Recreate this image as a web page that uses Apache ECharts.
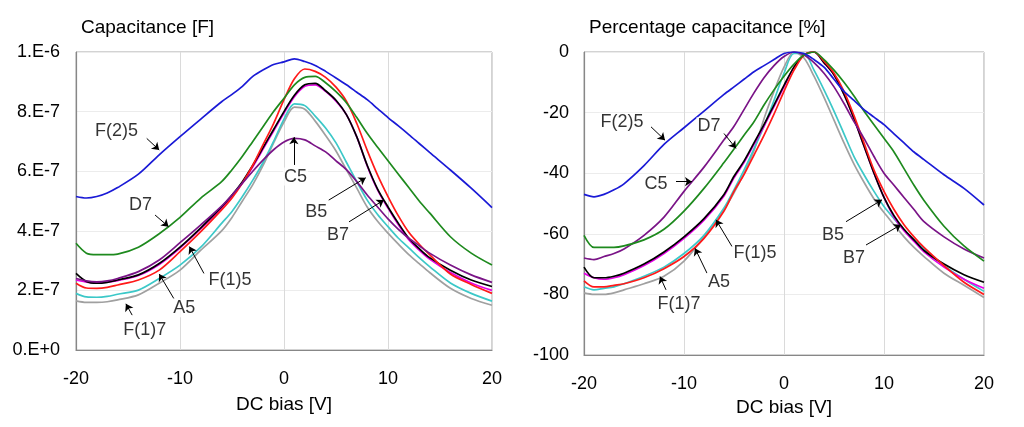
<!DOCTYPE html>
<html>
<head>
<meta charset="utf-8">
<script src="https://cdn.jsdelivr.net/npm/echarts@6/dist/echarts.min.js"></script>
<style>
  html, body { margin: 0; padding: 0; background: #fff; }
  #chart { width: 1024px; height: 427px; }
</style>
</head>
<body>
<div id="chart"></div>
<script>
// DC bias [V]
var biasV = [-20,-19,-18,-17,-16,-14,-12,-10,-8,-6,-5,-4,-3,-2,-1,0,1,2,3,4,5,6,7,8,9,10,11,12,13,14,16,18,20];

// capacitance, read in uF (scaled to F below)
var capF25 = [0.515,0.51,0.515,0.527,0.545,0.59,0.655,0.716,0.775,0.833,0.858,0.885,0.918,0.94,0.958,0.967,0.977,0.968,0.955,0.935,0.913,0.89,0.865,0.84,0.81,0.78,0.752,0.723,0.693,0.663,0.604,0.543,0.478];
var capD7  = [0.358,0.325,0.32,0.32,0.322,0.345,0.39,0.445,0.51,0.565,0.605,0.65,0.7,0.75,0.8,0.845,0.89,0.915,0.918,0.897,0.867,0.83,0.78,0.727,0.68,0.635,0.59,0.545,0.5,0.46,0.38,0.325,0.285];
var capC5  = [0.24,0.232,0.229,0.232,0.24,0.263,0.302,0.36,0.42,0.483,0.52,0.56,0.6,0.638,0.672,0.698,0.71,0.705,0.685,0.665,0.635,0.605,0.565,0.52,0.48,0.44,0.405,0.375,0.35,0.325,0.285,0.252,0.227];
var capB5  = [0.235,0.228,0.226,0.228,0.233,0.25,0.287,0.342,0.407,0.475,0.515,0.56,0.615,0.675,0.735,0.795,0.85,0.885,0.89,0.868,0.835,0.79,0.715,0.618,0.537,0.476,0.42,0.37,0.335,0.305,0.26,0.225,0.2];
var capB7  = [0.257,0.23,0.224,0.227,0.235,0.252,0.29,0.345,0.41,0.48,0.52,0.565,0.62,0.68,0.74,0.8,0.855,0.89,0.895,0.87,0.838,0.79,0.715,0.62,0.54,0.48,0.425,0.375,0.34,0.31,0.268,0.235,0.213];
var capF15 = [0.224,0.208,0.207,0.21,0.218,0.235,0.268,0.33,0.397,0.47,0.51,0.56,0.62,0.69,0.76,0.84,0.91,0.943,0.935,0.915,0.882,0.835,0.76,0.67,0.587,0.515,0.45,0.395,0.355,0.32,0.255,0.22,0.19];
var capA5  = [0.19,0.178,0.177,0.18,0.187,0.201,0.24,0.285,0.345,0.425,0.465,0.515,0.57,0.63,0.7,0.775,0.826,0.82,0.785,0.745,0.695,0.63,0.565,0.503,0.455,0.414,0.375,0.343,0.31,0.28,0.225,0.19,0.164];
var capF17 = [0.165,0.16,0.16,0.162,0.168,0.185,0.224,0.268,0.335,0.4,0.445,0.5,0.555,0.62,0.695,0.765,0.815,0.808,0.768,0.72,0.668,0.605,0.543,0.48,0.432,0.392,0.355,0.32,0.29,0.26,0.207,0.173,0.15];

// percentage capacitance [%]
var pctF25 = [-47,-47.8,-47,-45.5,-43.5,-37.5,-30.5,-25,-19.5,-14,-11.5,-9,-6.5,-4.5,-2.5,-0.5,0,-0.5,-2.5,-5,-9,-13,-16,-19,-21.5,-24,-27,-30,-33,-35.5,-40.5,-45,-50.5];
var pctD7  = [-60.5,-64.5,-64.5,-64.5,-64,-62,-58.5,-52.5,-45,-36.5,-32,-27.5,-23,-17.5,-12.5,-8,-4,-1,0,-2.5,-6,-10,-14.5,-19.5,-24,-28.5,-33,-38.5,-44,-49,-57.5,-64,-69];
var pctC5  = [-68,-68.5,-67.5,-66.5,-65,-60.5,-54.5,-46,-38,-29,-24.5,-19,-13.5,-8.5,-4.5,-1.5,0,-1,-3.5,-7,-11.5,-17,-23,-28.5,-34.5,-40,-44,-48,-52,-56,-61,-65,-68];
var pctB5  = [-73,-74.5,-75,-74.5,-73.5,-70.5,-66.5,-61.5,-55.5,-47.5,-41.5,-36.5,-30.5,-24.5,-18,-11.5,-5,-1,0,-3.5,-7.5,-14,-22,-31,-40,-48,-54.5,-59,-62.5,-66,-71,-75,-78];
var pctB7  = [-71,-74.5,-74.5,-74,-73,-70,-66,-61,-55,-47,-41,-36,-30,-24,-17.5,-11,-5,-1,0,-3.5,-7.5,-14,-22,-31,-40,-48,-54,-58.5,-62,-65.5,-70,-73.5,-76];
var pctF15 = [-75.5,-77.5,-77.5,-77,-76.5,-74.5,-71.5,-67.5,-61.5,-52.5,-46,-40.5,-34,-27.5,-20.5,-13,-6,-1,0,-3,-7,-13,-21,-30,-39,-46,-52,-57,-61,-64.5,-70.5,-76,-80];
var pctA5  = [-77.5,-78.5,-78,-77.5,-76.5,-74,-71,-66.5,-60.5,-51.5,-45.5,-39,-32,-24.5,-16,-7,-0.5,-0.5,-6,-12.5,-19.5,-27,-34.5,-40.5,-46,-51,-55,-58.7,-62,-65,-70.5,-75,-79];
var pctF17 = [-79.5,-80,-80,-79.5,-78.5,-76.5,-74,-69,-61,-52,-46.5,-40,-32.5,-22,-13,-5,0,-2,-8,-15,-22.5,-30,-37,-43,-48.5,-53,-57,-61,-64.5,-67.5,-73,-77,-81];

var sampleNames = ["F(1)7", "A5", "B5", "B7", "F(1)5", "C5", "D7", "F(2)5"];
var sampleColors = ["#a0a0a0", "#3cc8c8", "#e600e6", "#000000", "#ff1a1a", "#7a1487", "#1e8a1e", "#1a1ad6"];
var capSets = [capF17, capA5, capB5, capB7, capF15, capC5, capD7, capF25];
var pctSets = [pctF17, pctA5, pctB5, pctB7, pctF15, pctC5, pctD7, pctF25];

// annotation text [label, x, y] and arrows [x1, y1, x2, y2] (left in uF)
var leftNotes = [["F(2)5",-16.1,0.736],["D7",-13.8,0.487],["C5",1.1,0.582],["B5",3.1,0.464],["B7",5.2,0.386],["F(1)5",-5.2,0.235],["A5",-9.6,0.14],["F(1)7",-13.4,0.067]];
var leftArrows = [[-13.2,0.71,-12.0,0.671],[-12.4,0.453,-11.1,0.414],[0.95,0.621,0.95,0.714],[4.3,0.503,7.86,0.578],[6.25,0.43,9.6,0.503],[-7.7,0.257,-9.1,0.347],[-10.6,0.173,-12.0,0.255],[-14.6,0.117,-15.2,0.155]];
var rightNotes = [["F(2)5",-16.2,-23],["D7",-7.5,-24.5],["C5",-12.8,-43.6],["F(1)5",-2.9,-66.4],["A5",-6.5,-75.8],["F(1)7",-10.5,-83.1],["B5",4.9,-60.5],["B7",7.0,-68]];
var rightArrows = [[-13.3,-24.7,-11.9,-29.1],[-6.0,-26.9,-4.8,-31.8],[-10.8,-42.8,-9.2,-42.8],[-5.2,-64.2,-6.8,-55.4],[-7.7,-73,-8.9,-64.8],[-11.8,-78.5,-12.4,-74.1],[6.2,-56,9.8,-48.8],[8.2,-63.7,11.7,-57]];

var FONT = "'Liberation Sans', Arial, sans-serif";
var UF = 1e-6;

function toPairs(ys, scale) {
  return biasV.map(function (x, i) { return [x, ys[i] * scale]; });
}

function expLabel(v) {
  return (v).toExponential(0).toUpperCase().replace("E", ".E");
}

function noteSeries(notes, arrows, idx, scale) {
  return {
    type: "scatter",
    xAxisIndex: idx,
    yAxisIndex: idx,
    symbolSize: 1,
    itemStyle: { color: "rgba(0,0,0,0)" },
    silent: true,
    z: 10,
    data: notes.map(function (n) { return { name: n[0], value: [n[1], n[2] * scale] }; }),
    label: {
      show: true,
      position: "inside",
      formatter: "{b}",
      fontSize: 18,
      fontFamily: FONT,
      color: "#000",
      backgroundColor: "#fff",
      padding: [0, 1],
    },
    markLine: {
      silent: true,
      symbol: ["none", "arrow"],
      symbolSize: 7,
      label: { show: false },
      lineStyle: { color: "#000", width: 1, type: "solid" },
      data: arrows.map(function (a) {
        return [{ coord: [a[0], a[1] * scale] }, { coord: [a[2], a[3] * scale] }];
      }),
    },
  };
}

var series = [];
for (var i = 0; i < sampleNames.length; i++) {
  var base = {
    type: "line",
    name: sampleNames[i],
    showSymbol: false,
    smooth: 0.3,
    color: sampleColors[i],
    lineStyle: { width: 1.7, color: sampleColors[i] },
  };
  series.push(Object.assign({}, base, { xAxisIndex: 0, yAxisIndex: 0, data: toPairs(capSets[i], UF) }));
  series.push(Object.assign({}, base, { xAxisIndex: 1, yAxisIndex: 1, data: toPairs(pctSets[i], 1) }));
}
series.push(noteSeries(leftNotes, leftArrows, 0, UF));
series.push(noteSeries(rightNotes, rightArrows, 1, 1));

function xAxisFor(idx, gap) {
  return {
    type: "value",
    gridIndex: idx,
    min: -20,
    max: 20,
    interval: 10,
    name: "DC bias [V]",
    nameLocation: "middle",
    nameGap: gap,
    nameTextStyle: { fontSize: 19, fontFamily: FONT, color: "#000" },
    axisLine: { onZero: false, lineStyle: { color: "#878787", width: 1.2 } },
    axisTick: { show: false },
    axisLabel: { fontSize: 18, fontFamily: FONT, color: "#000", margin: 20 },
    splitLine: { show: true, lineStyle: { color: "#dadada", width: 1 } },
  };
}

function yAxisFor(idx, min, max, step, margin, fmt) {
  return {
    type: "value",
    gridIndex: idx,
    min: min,
    max: max,
    interval: step,
    axisLine: { show: true, onZero: false, lineStyle: { color: "#878787", width: 1.2 } },
    axisTick: { show: false },
    axisLabel: { fontSize: 18, fontFamily: FONT, color: "#000", margin: margin, formatter: fmt },
    splitLine: { show: true, lineStyle: { color: "#ececec", width: 1 } },
  };
}

var myChart = echarts.init(document.getElementById("chart"), null, { renderer: "canvas" });
var option = {
  animation: false,
  backgroundColor: "#fff",
  title: [
    { text: "Capacitance [F]", left: 76, top: 13, textStyle: { fontSize: 19, fontWeight: "normal", fontFamily: FONT, color: "#000" } },
    { text: "Percentage capacitance [%]", left: 584, top: 13, textStyle: { fontSize: 19, fontWeight: "normal", fontFamily: FONT, color: "#000" } },
  ],
  grid: [
    { left: 76, top: 52, width: 416, height: 298, show: true, borderColor: "#a6a6a6", borderWidth: 1 },
    { left: 584, top: 52, width: 400, height: 303, show: true, borderColor: "#a6a6a6", borderWidth: 1 },
  ],
  xAxis: [xAxisFor(0, 45), xAxisFor(1, 39)],
  yAxis: [
    yAxisFor(0, 0, 1e-6, 2e-7, 16, expLabel),
    yAxisFor(1, -100, 0, 20, 15, null),
  ],
  series: series,
};
myChart.setOption(option);
</script>
</body>
</html>
